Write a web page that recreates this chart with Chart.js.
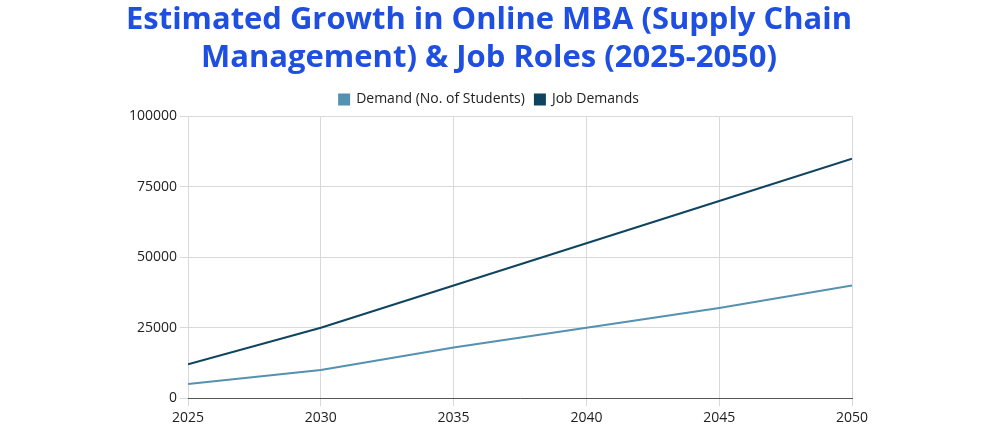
<!DOCTYPE html>
<html><head><meta charset="utf-8">
<script src="https://cdn.jsdelivr.net/npm/chart.js@4"></script>
<style>html,body{margin:0;background:#fff}#w{width:1000px;height:439px;position:relative}</style>
</head><body><div id="w"><canvas id="c"></canvas></div>
<script>
const years = [2025, 2030, 2035, 2040, 2045, 2050];
const studentDemand = [5000, 10000, 18000, 25000, 32000, 40000];
const jobDemand = [12000, 25000, 40000, 55000, 70000, 85000];
const yTicks = [0, 25000, 50000, 75000, 100000];
const toPts = v => years.map((y, i) => ({x: y, y: v[i]}));
new Chart(document.getElementById('c'), {
  type: 'line',
  data: { datasets: [
    {label: 'Demand (No. of Students)', data: toPts(studentDemand), borderColor: '#5591b0', backgroundColor: '#5591b0', borderWidth: 2, pointRadius: 0, tension: 0},
    {label: 'Job Demands', data: toPts(jobDemand), borderColor: '#0f4461', backgroundColor: '#0f4461', borderWidth: 2, pointRadius: 0, tension: 0}
  ]},
  options: {
    responsive: true, maintainAspectRatio: false, animation: false,
    layout: {padding: {left: 126, right: 148, top: 0, bottom: 10}},
    plugins: {
      title: {display: true, text: ['Estimated Growth in Online MBA (Supply Chain', 'Management) & Job Roles (2025-2050)'],
        color: '#1f4fe0', font: {family: 'Open Sans', size: 31, weight: 'bold'}, padding: {top: 2, bottom: 6}, lineHeight: 1.1},
      legend: {labels: {boxWidth: 10, boxHeight: 10, color: '#222', font: {family: 'Open Sans', size: 14}, padding: 10}}
    },
    scales: {
      x: {type: 'linear', min: 2025, max: 2050, afterBuildTicks: a => { a.ticks = years.map(v => ({value: v})); },
        ticks: {color: '#222', font: {family: 'Open Sans', size: 14}, callback: v => String(v)},
        grid: {color: '#d9d9d9'}, border: {color: '#555'}},
      y: {min: 0, max: 100000, afterBuildTicks: a => { a.ticks = yTicks.map(v => ({value: v})); },
        ticks: {color: '#222', font: {family: 'Open Sans', size: 14}, callback: v => String(v)},
        grid: {color: '#d9d9d9'}, border: {display: false}}
    }
  }
});
</script></body></html>
